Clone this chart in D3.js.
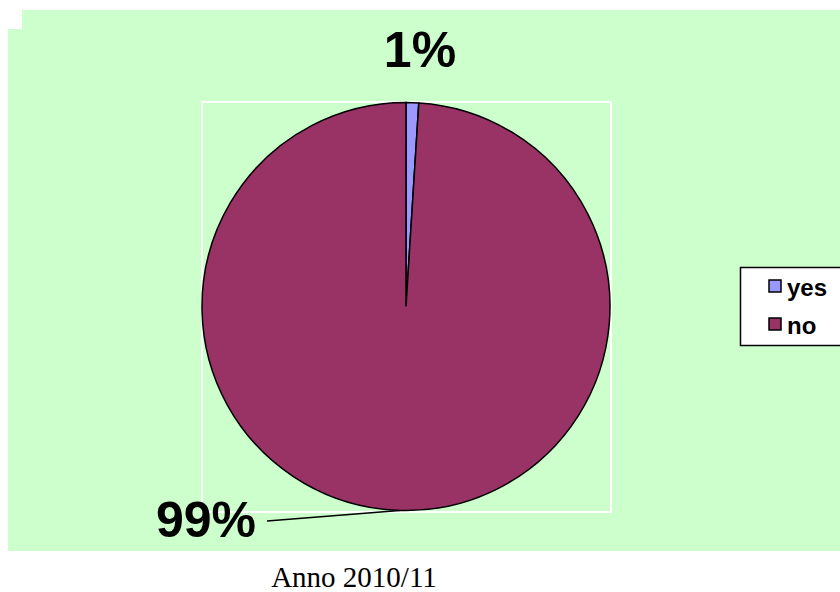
<!DOCTYPE html>
<html>
<head>
<meta charset="utf-8">
<script src="https://cdn.jsdelivr.net/npm/d3@7"></script>
<style>
  body { margin: 0; background: #fff; }
  svg { display: block; }
</style>
</head>
<body>
<svg width="840" height="592"></svg>
<script>
var categories = ["yes", "no"];
var values = [1, 99];
var labels = ["1%", "99%"];
var colors = ["#9999FF", "#993366"];

var svg = d3.select("svg"),
    width = +svg.attr("width"),
    height = +svg.attr("height");

// green chart area with the small notch at top-left
svg.append("path")
    .attr("d", "M22,10H840V551H8V29H22Z")
    .attr("fill", "#CCFFCC");

var cx = 406, cy = 306.5, r = 204;

// plot area frame
svg.append("rect")
    .attr("x", 202)
    .attr("y", 102)
    .attr("width", 409)
    .attr("height", 410)
    .attr("fill", "none")
    .attr("stroke", "#fff")
    .attr("stroke-width", 2);

var pie = d3.pie().sort(null).value(function (d) { return d; });
var arcs = pie(values);
var arc = d3.arc().innerRadius(0).outerRadius(r);

var g = svg.append("g").attr("transform", "translate(" + cx + "," + cy + ")");

g.selectAll("path")
    .data(arcs)
    .enter().append("path")
    .attr("d", arc)
    .attr("fill", function (d, i) { return colors[i]; })
    .attr("stroke", "#000")
    .attr("stroke-width", 1.5);

// labels
var labelPos = [[420, 67], [206, 537]];
svg.selectAll("text.lbl")
    .data(labels)
    .enter().append("text")
    .attr("class", "lbl")
    .attr("x", function (d, i) { return labelPos[i][0]; })
    .attr("y", function (d, i) { return labelPos[i][1]; })
    .attr("text-anchor", "middle")
    .attr("font-family", "Liberation Sans, Arial, sans-serif")
    .attr("font-weight", "bold")
    .attr("font-size", 50)
    .text(function (d) { return d; });

// leader line for the big slice
var ang = (arcs[1].startAngle + arcs[1].endAngle) / 2;
svg.append("line")
    .attr("x1", 267)
    .attr("y1", 521)
    .attr("x2", cx + r * Math.sin(ang))
    .attr("y2", cy - r * Math.cos(ang))
    .attr("stroke", "#000")
    .attr("stroke-width", 1.5);

// legend
var legend = svg.append("g");
legend.append("rect")
    .attr("x", 740.5)
    .attr("y", 267.5)
    .attr("width", 120)
    .attr("height", 78)
    .attr("fill", "#fff")
    .attr("stroke", "#000")
    .attr("stroke-width", 1.5);

var item = legend.selectAll("g.item")
    .data(categories)
    .enter().append("g")
    .attr("class", "item")
    .attr("transform", function (d, i) { return "translate(0," + (286 + i * 38) + ")"; });

item.append("rect")
    .attr("x", 769)
    .attr("y", -6)
    .attr("width", 12)
    .attr("height", 12)
    .attr("fill", function (d, i) { return colors[i]; })
    .attr("stroke", "#000")
    .attr("stroke-width", 1.5);

item.append("text")
    .attr("x", 787)
    .attr("y", 10)
    .attr("font-family", "Liberation Sans, Arial, sans-serif")
    .attr("font-weight", "bold")
    .attr("font-size", 24)
    .text(function (d) { return d; });

// caption
svg.append("text")
    .attr("x", 354)
    .attr("y", 587)
    .attr("text-anchor", "middle")
    .attr("font-family", "Liberation Serif, Times New Roman, serif")
    .attr("font-size", 29)
    .text("Anno 2010/11");
</script>
</body>
</html>
